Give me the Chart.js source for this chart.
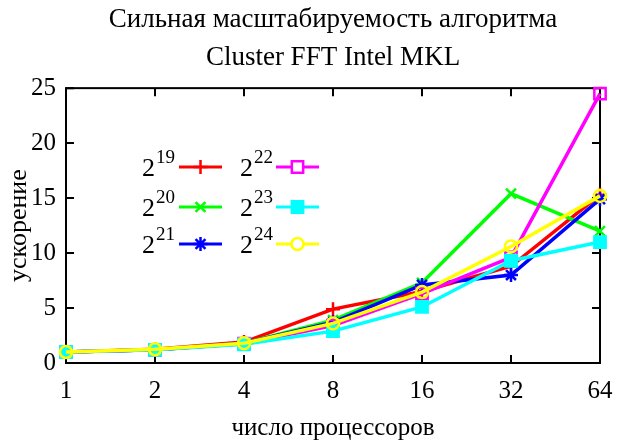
<!DOCTYPE html>
<html>
<head>
<meta charset="utf-8">
<script src="https://cdn.jsdelivr.net/npm/chart.js@4/dist/chart.umd.min.js"></script>
<style>
  html, body { margin: 0; padding: 0; background: #fff; }
</style>
</head>
<body>
<canvas id="chart" width="617" height="443"></canvas>
<script>
// data
const procs = ['1', '2', '4', '8', '16', '32', '64'];
const exps = ['19', '20', '21', '22', '23', '24'];
const s19 = [1.0, 1.25, 1.9, 4.9, 6.5, 8.8, 15.3];
const s20 = [1.0, 1.2, 1.8, 3.9, 7.3, 15.4, 12.0];
const s21 = [1.0, 1.2, 1.8, 3.7, 7.1, 8.0, 14.9];
const s22 = [1.0, 1.2, 1.75, 3.4, 6.3, 9.6, 24.5];
const s23 = [1.0, 1.2, 1.7, 2.9, 5.1, 9.3, 11.0];
const s24 = [1.0, 1.25, 1.8, 3.6, 6.45, 10.6, 15.2];
const yTicks = [0, 5, 10, 15, 20, 25];

const series = [s19, s20, s21, s22, s23, s24];
const COLORS = ['#ff0000', '#00ff00', '#0000ff', '#ff00ff', '#00ffff', '#ffff00'];
const STYLES = ['cross', 'crossRot', 'star', 'rect', 'rect', 'circle'];
const RADII  = [7, 7, 7, 8, 8, 6];
const FILLED = [true, true, true, false, true, false];
const SERIF = '"Liberation Serif", "DejaVu Serif", serif';

const datasets = series.map((d, i) => ({
  label: '2^' + exps[i],
  data: d,
  borderColor: COLORS[i],
  borderWidth: 3.5,
  pointStyle: STYLES[i],
  pointRadius: RADII[i],
  pointBorderWidth: 2.5,
  pointBorderColor: COLORS[i],
  pointBackgroundColor: FILLED[i] ? COLORS[i] : 'rgba(0,0,0,0)',
  tension: 0,
  clip: false,
  order: series.length - i   // later series on top, like gnuplot
}));

// box + inward ticks on all four sides
const frame = {
  id: 'frame',
  beforeDatasetsDraw(chart) {
    const { ctx, chartArea: a, scales } = chart;
    ctx.save();
    ctx.strokeStyle = '#000';
    ctx.lineWidth = 2;
    ctx.strokeRect(a.left, a.top, a.right - a.left, a.bottom - a.top);
    ctx.beginPath();
    procs.forEach((p, i) => {
      const x = scales.x.getPixelForValue(i);
      ctx.moveTo(x, a.bottom); ctx.lineTo(x, a.bottom - 8);
      ctx.moveTo(x, a.top); ctx.lineTo(x, a.top + 8);
    });
    yTicks.forEach(v => {
      const y = scales.y.getPixelForValue(v);
      ctx.moveTo(a.left, y); ctx.lineTo(a.left + 8, y);
      ctx.moveTo(a.right, y); ctx.lineTo(a.right - 8, y);
    });
    ctx.stroke();
    ctx.restore();
  }
};

// gnuplot style key inside the plot, 2 columns x 3 rows
const key = {
  id: 'key',
  afterDraw(chart) {
    const { ctx } = chart;
    const colText = [175, 273];
    const colLine = [[179, 222], [276, 319]];
    const rowY = [167, 207, 244];
    ctx.save();
    chart.data.datasets.forEach((ds, i) => {
      const c = i < 3 ? 0 : 1, r = i % 3;
      const y = rowY[r];
      // label 2 with superscript
      ctx.fillStyle = '#000';
      ctx.textBaseline = 'alphabetic';
      ctx.textAlign = 'right';
      ctx.font = '19px ' + SERIF;
      const sup = exps[i];
      const w = ctx.measureText(sup).width;
      ctx.fillText(sup, colText[c], y - 4);
      ctx.font = '26px ' + SERIF;
      ctx.fillText('2', colText[c] - w - 1, y + 9);
      // sample line
      ctx.strokeStyle = ds.borderColor;
      ctx.lineWidth = 3;
      ctx.beginPath();
      ctx.moveTo(colLine[c][0], y);
      ctx.lineTo(colLine[c][1], y);
      ctx.stroke();
      // marker
      const mx = (colLine[c][0] + colLine[c][1]) / 2;
      ctx.fillStyle = FILLED[i] ? ds.borderColor : '#fff';
      ctx.lineWidth = 2.5;
      Chart.helpers.drawPoint(ctx, {
        pointStyle: ds.pointStyle, radius: ds.pointRadius, rotation: 0, borderWidth: 2.5
      }, mx, y);
    });
    ctx.restore();
  }
};

new Chart(document.getElementById('chart'), {
  type: 'line',
  data: { labels: procs, datasets },
  options: {
    responsive: false,
    animation: false,
    devicePixelRatio: 1,
    layout: { padding: { left: 0, right: 0, top: 0, bottom: 0 } },
    plugins: {
      legend: { display: false },
      tooltip: { enabled: false },
      title: {
        display: true,
        fullSize: false,
        text: ['Сильная масштабируемость алгоритма', 'Cluster FFT Intel MKL'],
        color: '#000',
        font: { family: SERIF, size: 27, weight: 'normal', lineHeight: 1.41 },
        padding: { top: 1, bottom: 11 }
      }
    },
    scales: {
      x: {
        type: 'category',
        offset: false,
        grid: { display: false, drawTicks: false },
        border: { display: false },
        ticks: { color: '#000', font: { family: SERIF, size: 25 }, padding: 13, maxRotation: 0 },
        title: { display: true, text: 'число процессоров', color: '#000',
                 font: { family: SERIF, size: 25 }, padding: 0 },
        afterFit(s) { s.height = 80; s.paddingLeft = 0; s.paddingRight = 17; }
      },
      y: {
        min: 0, max: 25,
        grid: { display: false, drawTicks: false },
        border: { display: false },
        ticks: { stepSize: 5, color: '#000', font: { family: SERIF, size: 25 }, padding: 10 },
        title: { display: true, text: 'ускорение', color: '#000',
                 font: { family: SERIF, size: 26 }, padding: { top: 4, bottom: 0 } },
        afterFit(s) { s.width = 66; }
      }
    }
  },
  plugins: [frame, key]
});
</script>
</body>
</html>
